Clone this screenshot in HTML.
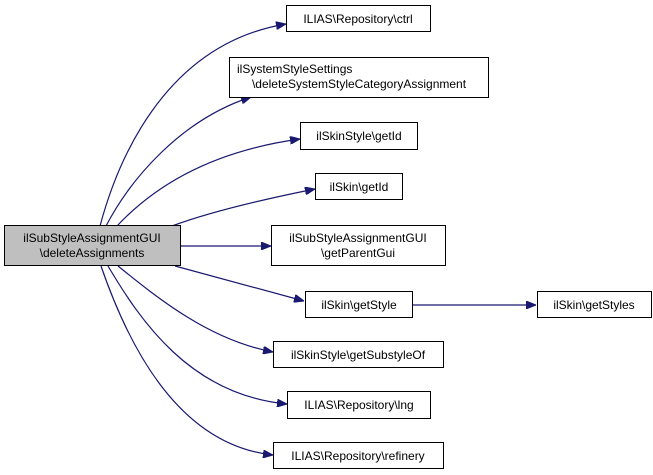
<!DOCTYPE html>
<html><head><style>
body{margin:0;background:#fff;width:653px;height:475px;overflow:hidden}
svg{display:block}
text{font-family:"Liberation Sans",sans-serif;font-size:12px;fill:#000}
</style></head><body>
<svg width="653" height="475" viewBox="0 0 653 475" xmlns="http://www.w3.org/2000/svg">
<defs>
<marker id="a" markerWidth="10" markerHeight="8" refX="10" refY="4" orient="auto" markerUnits="userSpaceOnUse">
<path d="M0,0 L10,4 L0,8 Z" fill="#191970" stroke="#191970"/>
</marker>
</defs>
<g fill="none" stroke="#191970" stroke-width="1.2" marker-end="url(#a)">
<path d="M100,226 C115,170 160,45 286,24"/>
<path d="M106,226 C130,180 180,120 251,97"/>
<path d="M117,226 C160,180 220,150 300,139"/>
<path d="M172,226 C210,212 260,200 315,189"/>
<path d="M180,246 L271,246"/>
<path d="M175,266 L304,301"/>
<path d="M118,266 C160,300 210,340 273,352"/>
<path d="M108,266 C140,320 190,395 287,404"/>
<path d="M101,266 C130,350 180,445 273,455"/>
<path d="M411,305 L536,305"/>
</g>
<g stroke="#000" stroke-width="1" fill="#fff">
<rect x="4.5" y="225.5" width="176" height="40" fill="#bfbfbf"/>
<rect x="286.5" y="5.5" width="144" height="26"/>
<rect x="229.5" y="57.5" width="259" height="40"/>
<rect x="300.5" y="122.5" width="117" height="27"/>
<rect x="315.5" y="173.5" width="87" height="26"/>
<rect x="271.5" y="225.5" width="174" height="40"/>
<rect x="305.5" y="291.5" width="107" height="26"/>
<rect x="537.5" y="291.5" width="114" height="26"/>
<rect x="273.5" y="341.5" width="170" height="26"/>
<rect x="287.5" y="391.5" width="143" height="27"/>
<rect x="273.5" y="442.5" width="170" height="26"/>
</g>
<g text-anchor="middle">
<text x="92" y="242">ilSubStyleAssignmentGUI</text>
<text x="92" y="257">\deleteAssignments</text>
<text x="358" y="23">ILIAS\Repository\ctrl</text>
<text x="237" y="73" text-anchor="start">ilSystemStyleSettings</text>
<text x="359" y="88">\deleteSystemStyleCategoryAssignment</text>
<text x="359" y="140">ilSkinStyle\getId</text>
<text x="359" y="191">ilSkin\getId</text>
<text x="358" y="242">ilSubStyleAssignmentGUI</text>
<text x="358" y="257">\getParentGui</text>
<text x="359" y="309">ilSkin\getStyle</text>
<text x="594" y="309">ilSkin\getStyles</text>
<text x="358" y="359">ilSkinStyle\getSubstyleOf</text>
<text x="359" y="409">ILIAS\Repository\lng</text>
<text x="358" y="460">ILIAS\Repository\refinery</text>
</g>
</svg>
</body></html>
